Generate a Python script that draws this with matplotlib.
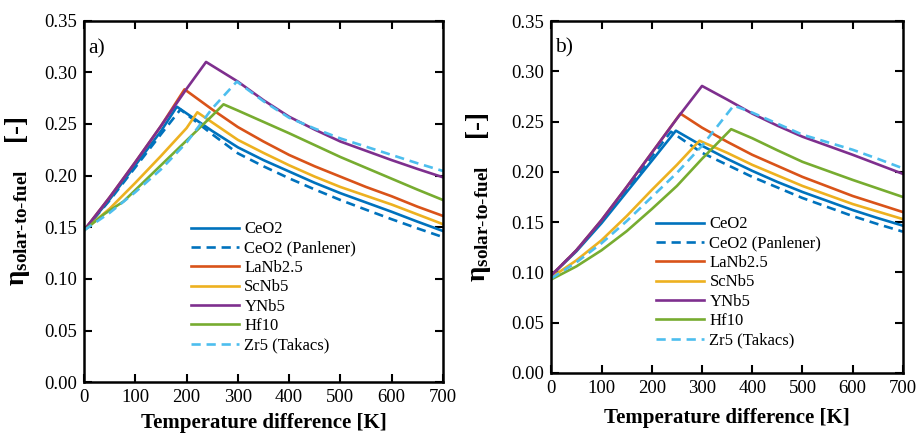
import numpy as np
import matplotlib
matplotlib.use("Agg")
import matplotlib.pyplot as plt

plt.rcParams['font.family'] = ['Liberation Serif', 'DejaVu Serif']
plt.rcParams['mathtext.fontset'] = 'custom'
plt.rcParams['mathtext.rm'] = 'Liberation Serif'
plt.rcParams['mathtext.it'] = 'Liberation Serif:italic'
plt.rcParams['mathtext.bf'] = 'Liberation Serif:bold'

labels = ['CeO2', 'CeO2 (Panlener)', 'LaNb2.5', 'ScNb5', 'YNb5', 'Hf10', 'Zr5 (Takacs)']
colors = ['#0072BD', '#0072BD', '#D95319', '#EDB120', '#7E2F8E', '#77AC30', '#4DBEEE']
styles = ['-', '--', '-', '-', '-', '-', '--']

# ---- panel a) ----
t_ceo2_a = [0, 50, 100, 150, 181, 250, 300, 350, 400, 450, 500, 550, 600, 650, 700]
v_ceo2_a = [0.147, 0.177, 0.210, 0.243, 0.2667, 0.2432, 0.2274, 0.215, 0.204, 0.193, 0.183, 0.174, 0.165, 0.1555, 0.1464]
t_pan_a = [0, 50, 100, 150, 188, 250, 300, 350, 400, 450, 500, 550, 600, 650, 700]
v_pan_a = [0.147, 0.176, 0.208, 0.240, 0.264, 0.240, 0.2216, 0.209, 0.1974, 0.1866, 0.1764, 0.167, 0.1578, 0.149, 0.1405]
t_la_a = [0, 50, 100, 150, 196, 250, 300, 350, 400, 450, 500, 550, 600, 650, 700]
v_la_a = [0.147, 0.179, 0.213, 0.248, 0.2835, 0.264, 0.247, 0.233, 0.220, 0.209, 0.199, 0.189, 0.180, 0.170, 0.161]
t_sc_a = [0, 50, 100, 150, 200, 221, 300, 350, 400, 450, 500, 550, 600, 650, 700]
v_sc_a = [0.147, 0.168, 0.193, 0.219, 0.246, 0.2613, 0.2346, 0.222, 0.210, 0.199, 0.189, 0.1805, 0.172, 0.1625, 0.153]
t_y_a = [0, 50, 100, 150, 200, 238, 300, 350, 400, 450, 500, 550, 600, 650, 700]
v_y_a = [0.147, 0.179, 0.213, 0.248, 0.284, 0.310, 0.291, 0.273, 0.257, 0.2445, 0.233, 0.224, 0.215, 0.2065, 0.1984]
t_hf_a = [0, 40, 77, 100, 150, 200, 250, 272, 300, 350, 400, 450, 500, 550, 600, 650, 700]
v_hf_a = [0.147, 0.163, 0.175, 0.186, 0.210, 0.234, 0.258, 0.269, 0.263, 0.252, 0.241, 0.2295, 0.218, 0.2075, 0.197, 0.1865, 0.1764]
t_zr_a = [0, 50, 100, 150, 200, 250, 298, 350, 400, 450, 500, 550, 600, 650, 700]
v_zr_a = [0.147, 0.164, 0.184, 0.206, 0.232, 0.265, 0.291, 0.272, 0.256, 0.2455, 0.236, 0.228, 0.220, 0.212, 0.2045]

# ---- panel b) ----
t_ceo2_b = [0, 50, 100, 150, 200, 248, 300, 350, 400, 450, 500, 550, 600, 650, 700]
v_ceo2_b = [0.097, 0.121, 0.149, 0.180, 0.211, 0.241, 0.226, 0.213, 0.201, 0.190, 0.180, 0.171, 0.162, 0.154, 0.1465]
t_pan_b = [0, 50, 100, 150, 200, 238, 300, 350, 400, 450, 500, 550, 600, 650, 700]
v_pan_b = [0.097, 0.122, 0.151, 0.183, 0.215, 0.240, 0.219, 0.207, 0.195, 0.1845, 0.174, 0.165, 0.156, 0.148, 0.1405]
t_la_b = [0, 50, 100, 150, 200, 257, 300, 350, 400, 450, 500, 550, 600, 650, 700]
v_la_b = [0.097, 0.122, 0.152, 0.185, 0.219, 0.258, 0.244, 0.230, 0.217, 0.206, 0.195, 0.1855, 0.176, 0.168, 0.160]
t_sc_b = [0, 50, 100, 150, 200, 250, 295, 350, 400, 450, 500, 550, 600, 650, 700]
v_sc_b = [0.095, 0.112, 0.132, 0.156, 0.182, 0.207, 0.231, 0.219, 0.207, 0.1965, 0.186, 0.177, 0.168, 0.1605, 0.153]
t_y_b = [0, 50, 100, 150, 200, 250, 300, 350, 400, 450, 500, 550, 600, 650, 700]
v_y_b = [0.097, 0.122, 0.152, 0.185, 0.219, 0.253, 0.2855, 0.272, 0.258, 0.246, 0.235, 0.226, 0.217, 0.2075, 0.198]
t_hf_b = [0, 50, 100, 150, 200, 250, 300, 358, 400, 450, 500, 550, 600, 650, 700]
v_hf_b = [0.093, 0.106, 0.122, 0.141, 0.163, 0.186, 0.213, 0.2425, 0.2335, 0.2215, 0.210, 0.201, 0.192, 0.1835, 0.175]
t_zr_b = [0, 50, 100, 150, 200, 250, 300, 330, 363, 400, 450, 500, 550, 600, 650, 700]
v_zr_b = [0.094, 0.110, 0.129, 0.151, 0.175, 0.199, 0.226, 0.245, 0.266, 0.259, 0.248, 0.237, 0.2295, 0.222, 0.213, 0.2035]

series_a = [(t_ceo2_a, v_ceo2_a), (t_pan_a, v_pan_a), (t_la_a, v_la_a), (t_sc_a, v_sc_a),
            (t_y_a, v_y_a), (t_hf_a, v_hf_a), (t_zr_a, v_zr_a)]
series_b = [(t_ceo2_b, v_ceo2_b), (t_pan_b, v_pan_b), (t_la_b, v_la_b), (t_sc_b, v_sc_b),
            (t_y_b, v_y_b), (t_hf_b, v_hf_b), (t_zr_b, v_zr_b)]

xticks = [0, 100, 200, 300, 400, 500, 600, 700]
yticks = [0.00, 0.05, 0.10, 0.15, 0.20, 0.25, 0.30, 0.35]

fig = plt.figure(figsize=(9.17, 4.34), dpi=100)
ax1 = fig.add_axes([0.0916, 0.1191, 0.3915, 0.8334])
ax2 = fig.add_axes([0.6012, 0.1408, 0.3835, 0.8105])

ylab = r'$\mathbf{\eta}_{\mathbf{solar}\text{-}\mathbf{to}\text{-}\mathbf{fuel}}$    [-]'

def draw_panel(ax, series, tag, labx, xpad):
    for (t, v), lab, c, ls in zip(series, labels, colors, styles):
        if ls == '--':
            ax.plot(t, v, color=c, lw=1.9, linestyle=(0, (3.5, 2.2)), label=lab)
        else:
            ax.plot(t, v, color=c, lw=1.9, label=lab)
    ax.set_xlim(0, 700)
    ax.set_ylim(0, 0.35)
    ax.set_xticks(xticks)
    ax.set_yticks(yticks)
    ax.set_yticklabels([f'{y:.2f}' for y in yticks])
    ax.tick_params(direction='in', length=6, width=1.5, top=True, right=True,
                   labelsize=13.5, pad=5)
    for s in ax.spines.values():
        s.set_linewidth(1.8)
    ax.set_xlabel('Temperature difference [K]', fontsize=15, fontweight='bold', labelpad=xpad)
    ax.set_ylabel(ylab, fontsize=19.5, fontweight='bold')
    ax.yaxis.set_label_coords(labx, 0.5)
    ax.text(8, 0.323, tag, fontsize=15.5, va='center', ha='left')
    ax.legend(loc='upper left', bbox_to_anchor=(0.298, 0.445), frameon=False,
              fontsize=12, handlelength=2.9, handletextpad=0.3, labelspacing=0.2,
              borderpad=0, borderaxespad=0)

draw_panel(ax1, series_a, 'a)', -0.145, 4.5)
draw_panel(ax2, series_b, 'b)', -0.165, 8)

fig.savefig('out.png', dpi=100)
